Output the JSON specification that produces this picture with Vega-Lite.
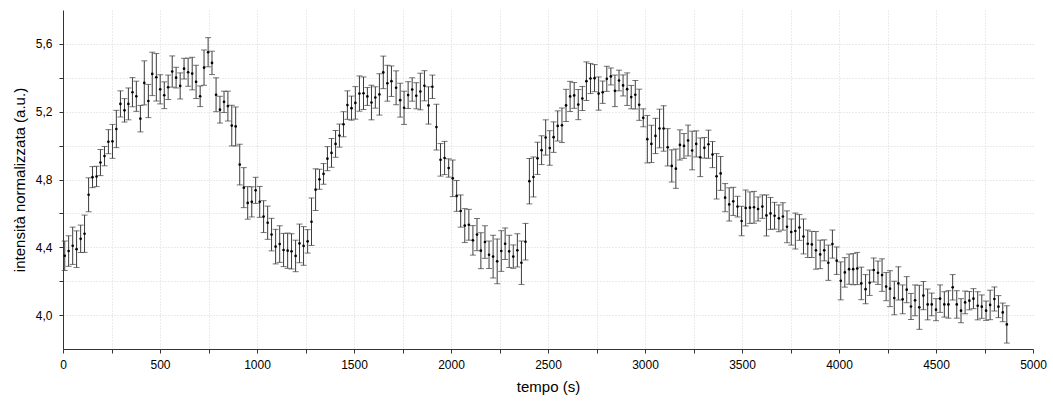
{
"$schema": "https://vega.github.io/schema/vega-lite/v6.json",
"width": 970, "height": 339,
"autosize": {"type": "none"},
"padding": {"left": 63, "top": 10, "right": 20, "bottom": 52},
"background": "white",
"config": {"view": {"stroke": null}, "font": "Liberation Sans"},
"data": {"values": [
{"t":9,"v":4.350,"e":0.087},{"t":29,"v":4.378,"e":0.090},{"t":50,"v":4.409,"e":0.110},{"t":70,"v":4.389,"e":0.108},{"t":91,"v":4.450,"e":0.081},{"t":111,"v":4.480,"e":0.110},{"t":132,"v":4.710,"e":0.100},{"t":152,"v":4.814,"e":0.062},{"t":173,"v":4.818,"e":0.060},{"t":193,"v":4.900,"e":0.077},
{"t":214,"v":4.938,"e":0.057},{"t":234,"v":5.023,"e":0.071},{"t":255,"v":5.025,"e":0.100},{"t":275,"v":5.098,"e":0.110},{"t":296,"v":5.246,"e":0.077},{"t":317,"v":5.208,"e":0.069},{"t":337,"v":5.246,"e":0.094},{"t":358,"v":5.315,"e":0.086},{"t":378,"v":5.291,"e":0.089},{"t":399,"v":5.159,"e":0.078},
{"t":419,"v":5.370,"e":0.130},{"t":440,"v":5.263,"e":0.098},{"t":460,"v":5.423,"e":0.128},{"t":481,"v":5.403,"e":0.140},{"t":501,"v":5.332,"e":0.086},{"t":522,"v":5.297,"e":0.079},{"t":542,"v":5.344,"e":0.072},{"t":563,"v":5.437,"e":0.092},{"t":583,"v":5.401,"e":0.061},{"t":604,"v":5.352,"e":0.077},
{"t":624,"v":5.454,"e":0.061},{"t":645,"v":5.433,"e":0.083},{"t":666,"v":5.425,"e":0.096},{"t":686,"v":5.376,"e":0.098},{"t":707,"v":5.291,"e":0.061},{"t":727,"v":5.460,"e":0.104},{"t":748,"v":5.551,"e":0.086},{"t":768,"v":5.488,"e":0.069},{"t":789,"v":5.300,"e":0.100},{"t":809,"v":5.212,"e":0.079},
{"t":830,"v":5.258,"e":0.063},{"t":850,"v":5.233,"e":0.088},{"t":870,"v":5.118,"e":0.120},{"t":890,"v":5.113,"e":0.115},{"t":911,"v":4.888,"e":0.120},{"t":932,"v":4.752,"e":0.118},{"t":952,"v":4.662,"e":0.096},{"t":973,"v":4.668,"e":0.089},{"t":993,"v":4.736,"e":0.077},{"t":1014,"v":4.668,"e":0.091},
{"t":1034,"v":4.581,"e":0.094},{"t":1055,"v":4.545,"e":0.098},{"t":1075,"v":4.475,"e":0.096},{"t":1096,"v":4.404,"e":0.102},{"t":1117,"v":4.419,"e":0.108},{"t":1137,"v":4.384,"e":0.098},{"t":1158,"v":4.380,"e":0.104},{"t":1178,"v":4.376,"e":0.104},{"t":1199,"v":4.349,"e":0.093},{"t":1219,"v":4.423,"e":0.114},
{"t":1240,"v":4.408,"e":0.114},{"t":1261,"v":4.435,"e":0.069},{"t":1281,"v":4.551,"e":0.140},{"t":1302,"v":4.740,"e":0.123},{"t":1322,"v":4.801,"e":0.059},{"t":1343,"v":4.833,"e":0.061},{"t":1363,"v":4.923,"e":0.071},{"t":1384,"v":4.957,"e":0.085},{"t":1405,"v":5.010,"e":0.079},{"t":1425,"v":5.059,"e":0.068},
{"t":1446,"v":5.126,"e":0.074},{"t":1466,"v":5.239,"e":0.084},{"t":1487,"v":5.221,"e":0.071},{"t":1507,"v":5.252,"e":0.096},{"t":1528,"v":5.307,"e":0.104},{"t":1549,"v":5.309,"e":0.096},{"t":1569,"v":5.290,"e":0.053},{"t":1590,"v":5.254,"e":0.102},{"t":1610,"v":5.284,"e":0.063},{"t":1631,"v":5.302,"e":0.122},
{"t":1651,"v":5.432,"e":0.096},{"t":1672,"v":5.368,"e":0.106},{"t":1693,"v":5.380,"e":0.090},{"t":1717,"v":5.341,"e":0.100},{"t":1738,"v":5.268,"e":0.100},{"t":1758,"v":5.223,"e":0.098},{"t":1779,"v":5.298,"e":0.079},{"t":1800,"v":5.331,"e":0.069},{"t":1821,"v":5.294,"e":0.077},{"t":1842,"v":5.319,"e":0.108},
{"t":1863,"v":5.353,"e":0.089},{"t":1884,"v":5.237,"e":0.110},{"t":1904,"v":5.347,"e":0.069},{"t":1925,"v":5.109,"e":0.135},{"t":1946,"v":4.916,"e":0.096},{"t":1967,"v":4.927,"e":0.098},{"t":1988,"v":4.868,"e":0.054},{"t":2009,"v":4.807,"e":0.108},{"t":2029,"v":4.703,"e":0.091},{"t":2050,"v":4.614,"e":0.095},
{"t":2071,"v":4.528,"e":0.100},{"t":2092,"v":4.533,"e":0.091},{"t":2113,"v":4.441,"e":0.087},{"t":2134,"v":4.475,"e":0.095},{"t":2154,"v":4.380,"e":0.106},{"t":2175,"v":4.431,"e":0.096},{"t":2196,"v":4.356,"e":0.081},{"t":2217,"v":4.345,"e":0.126},{"t":2238,"v":4.317,"e":0.132},{"t":2259,"v":4.378,"e":0.120},
{"t":2279,"v":4.421,"e":0.093},{"t":2300,"v":4.376,"e":0.095},{"t":2321,"v":4.345,"e":0.069},{"t":2342,"v":4.382,"e":0.098},{"t":2363,"v":4.309,"e":0.128},{"t":2384,"v":4.433,"e":0.108},{"t":2404,"v":4.790,"e":0.134},{"t":2425,"v":4.815,"e":0.118},{"t":2446,"v":4.925,"e":0.095},{"t":2467,"v":4.973,"e":0.085},
{"t":2488,"v":5.048,"e":0.104},{"t":2509,"v":4.986,"e":0.102},{"t":2529,"v":5.050,"e":0.090},{"t":2550,"v":5.116,"e":0.089},{"t":2572,"v":5.120,"e":0.102},{"t":2593,"v":5.237,"e":0.095},{"t":2614,"v":5.290,"e":0.089},{"t":2635,"v":5.296,"e":0.076},{"t":2656,"v":5.242,"e":0.089},{"t":2677,"v":5.278,"e":0.071},
{"t":2698,"v":5.380,"e":0.114},{"t":2719,"v":5.396,"e":0.089},{"t":2740,"v":5.398,"e":0.080},{"t":2761,"v":5.307,"e":0.098},{"t":2782,"v":5.315,"e":0.066},{"t":2803,"v":5.394,"e":0.074},{"t":2824,"v":5.408,"e":0.050},{"t":2845,"v":5.323,"e":0.093},{"t":2866,"v":5.384,"e":0.061},{"t":2887,"v":5.355,"e":0.062},
{"t":2908,"v":5.333,"e":0.096},{"t":2929,"v":5.286,"e":0.069},{"t":2950,"v":5.300,"e":0.084},{"t":2970,"v":5.241,"e":0.092},{"t":2991,"v":5.164,"e":0.053},{"t":3012,"v":5.038,"e":0.140},{"t":3033,"v":5.010,"e":0.110},{"t":3054,"v":5.057,"e":0.104},{"t":3075,"v":5.101,"e":0.114},{"t":3096,"v":5.101,"e":0.134},
{"t":3117,"v":4.990,"e":0.110},{"t":3138,"v":4.880,"e":0.095},{"t":3159,"v":4.864,"e":0.116},{"t":3180,"v":5.004,"e":0.089},{"t":3201,"v":4.998,"e":0.073},{"t":3222,"v":5.030,"e":0.091},{"t":3243,"v":4.971,"e":0.114},{"t":3264,"v":5.010,"e":0.077},{"t":3285,"v":4.931,"e":0.114},{"t":3306,"v":4.987,"e":0.061},
{"t":3327,"v":5.008,"e":0.083},{"t":3348,"v":4.947,"e":0.077},{"t":3369,"v":4.819,"e":0.134},{"t":3390,"v":4.836,"e":0.100},{"t":3413,"v":4.693,"e":0.083},{"t":3434,"v":4.653,"e":0.098},{"t":3455,"v":4.671,"e":0.083},{"t":3477,"v":4.640,"e":0.061},{"t":3498,"v":4.555,"e":0.087},{"t":3519,"v":4.632,"e":0.106},
{"t":3541,"v":4.634,"e":0.093},{"t":3562,"v":4.636,"e":0.094},{"t":3583,"v":4.626,"e":0.071},{"t":3605,"v":4.640,"e":0.069},{"t":3626,"v":4.588,"e":0.121},{"t":3647,"v":4.600,"e":0.094},{"t":3668,"v":4.586,"e":0.079},{"t":3690,"v":4.571,"e":0.079},{"t":3711,"v":4.582,"e":0.081},{"t":3732,"v":4.521,"e":0.094},
{"t":3754,"v":4.490,"e":0.077},{"t":3775,"v":4.496,"e":0.106},{"t":3796,"v":4.517,"e":0.076},{"t":3817,"v":4.464,"e":0.103},{"t":3839,"v":4.421,"e":0.081},{"t":3860,"v":4.417,"e":0.077},{"t":3881,"v":4.382,"e":0.111},{"t":3903,"v":4.358,"e":0.084},{"t":3924,"v":4.382,"e":0.062},{"t":3945,"v":4.309,"e":0.104},
{"t":3966,"v":4.419,"e":0.083},{"t":3988,"v":4.321,"e":0.081},{"t":4009,"v":4.202,"e":0.112},{"t":4030,"v":4.252,"e":0.087},{"t":4052,"v":4.271,"e":0.089},{"t":4073,"v":4.271,"e":0.092},{"t":4094,"v":4.275,"e":0.095},{"t":4115,"v":4.187,"e":0.096},{"t":4137,"v":4.153,"e":0.086},{"t":4158,"v":4.191,"e":0.075},
{"t":4179,"v":4.266,"e":0.071},{"t":4201,"v":4.250,"e":0.069},{"t":4222,"v":4.236,"e":0.096},{"t":4243,"v":4.168,"e":0.083},{"t":4263,"v":4.156,"e":0.106},{"t":4285,"v":4.101,"e":0.099},{"t":4306,"v":4.187,"e":0.098},{"t":4328,"v":4.093,"e":0.085},{"t":4349,"v":4.150,"e":0.077},{"t":4371,"v":4.051,"e":0.077},
{"t":4392,"v":4.087,"e":0.091},{"t":4414,"v":4.046,"e":0.130},{"t":4435,"v":4.115,"e":0.083},{"t":4457,"v":4.063,"e":0.091},{"t":4478,"v":4.063,"e":0.067},{"t":4500,"v":4.032,"e":0.065},{"t":4521,"v":4.097,"e":0.081},{"t":4543,"v":4.063,"e":0.075},{"t":4564,"v":4.063,"e":0.081},{"t":4586,"v":4.164,"e":0.075},
{"t":4607,"v":4.063,"e":0.081},{"t":4629,"v":4.026,"e":0.071},{"t":4650,"v":4.075,"e":0.067},{"t":4672,"v":4.085,"e":0.054},{"t":4693,"v":4.097,"e":0.059},{"t":4715,"v":4.055,"e":0.083},{"t":4736,"v":4.050,"e":0.069},{"t":4758,"v":4.026,"e":0.057},{"t":4779,"v":4.060,"e":0.087},{"t":4801,"v":4.095,"e":0.071},
{"t":4822,"v":4.050,"e":0.065},{"t":4844,"v":4.016,"e":0.055},{"t":4865,"v":3.945,"e":0.110}
]},
"layer": [
{"mark": {"type": "errorbar", "color": "#3c3c3c", "thickness": 1, "ticks": {"size": 6, "color": "#3c3c3c", "thickness": 1}},
 "encoding": {
  "x": {"field": "t", "type": "quantitative", "title": "tempo (s)",
        "scale": {"domain": [0, 5000], "nice": false},
        "axis": {"values": [0,250,500,750,1000,1250,1500,1750,2000,2250,2500,2750,3000,3250,3500,3750,4000,4250,4500,4750,5000],
                 "format": "d", "labelExpr": "datum.value % 500 == 0 ? datum.label : ''",
                 "grid": true, "gridDash": [1,2], "gridColor": {"condition": {"test": "datum.value >= 5000 || datum.value <= 0", "value": "transparent"}, "value": "#d6d6d6"},
                 "tickSize": 4, "tickColor": "#333", "domainColor": "#333", "domainWidth": 1,
                 "labelPadding": 6, "labelFontSize": 12, "labelColor": "#000", "labelFlush": false, "labelOverlap": false,
                 "titleFontSize": 15, "titleFontWeight": "normal", "titleColor": "#000", "titlePadding": 9}},
  "y": {"field": "v", "type": "quantitative", "title": "intensità normalizzata (a.u.)",
        "scale": {"domain": [3.8, 5.8], "nice": false, "zero": false},
        "axis": {"values": [4.0,4.2,4.4,4.6,4.8,5.0,5.2,5.4,5.6],
                 "labelExpr": "round(datum.value*10) % 4 == 0 ? replace(format(datum.value, '.1f'), '.', ',') : ''",
                 "grid": true, "gridDash": [1,2], "gridColor": "#d6d6d6",
                 "tickSize": 4, "tickColor": "#333", "domainColor": "#333", "domainWidth": 1,
                 "labelPadding": 7, "labelFontSize": 12, "labelColor": "#000", "labelOverlap": false,
                 "titleFontSize": 15, "titleFontWeight": "normal", "titleColor": "#000", "titlePadding": 8}},
  "yError": {"field": "e"}
 }},
{"mark": {"type": "point", "filled": true, "color": "#000", "size": 7, "opacity": 1},
 "encoding": {
  "x": {"field": "t", "type": "quantitative", "title": "tempo (s)"},
  "y": {"field": "v", "type": "quantitative", "title": "intensità normalizzata (a.u.)"}
 }}
]
}
